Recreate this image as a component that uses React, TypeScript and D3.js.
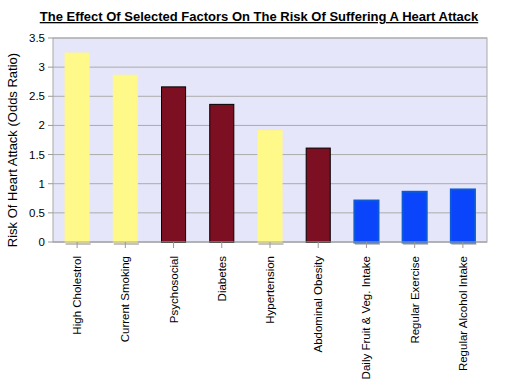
import React from "react";
import * as d3 from "d3";

const categories = [
  "High Cholestrol",
  "Current Smoking",
  "Psychosocial",
  "Diabetes",
  "Hypertension",
  "Abdominal Obesity",
  "Daily Fruit & Veg. Intake",
  "Regular Exercise",
  "Regular Alcohol Intake",
];
const oddsRatio = [3.25, 2.87, 2.67, 2.37, 1.92, 1.62, 0.72, 0.87, 0.91];
const groups = ["light", "light", "dark", "dark", "light", "dark", "blue", "blue", "blue"];
const yTicks = [0, 0.5, 1, 1.5, 2, 2.5, 3, 3.5];

const W = 506;
const H = 387;
const margin = { top: 38, right: 19, bottom: 145, left: 53 };

const fills: Record<string, string> = { light: "#fff98a", dark: "#7c1022", blue: "#0a44fb" };
const strokes: Record<string, string> = { light: "#fff68a", dark: "#000000", blue: "#0d5ad8" };

const App = () => {
  const iw = W - margin.left - margin.right;
  const ih = H - margin.top - margin.bottom;

  const x = d3.scaleBand().domain(categories).range([0, iw]).paddingInner(0.48).paddingOuter(0.24);
  const y = d3.scaleLinear().domain([0, 3.5]).range([ih, 0]);
  const font = "Arial, 'Liberation Sans', sans-serif";

  return (
    <svg width={W} height={H} style={{ display: "block", position: "absolute", left: 0, top: 0 }}>
      <rect width={W} height={H} fill="#ffffff" />
      <text
        x={259}
        y={21}
        textAnchor="middle"
        fontFamily={font}
        fontWeight="bold"
        fontSize={13}
        textDecoration="underline"
      >
        The Effect Of Selected Factors On The Risk Of Suffering A Heart Attack
      </text>
      <text
        transform={`translate(17,150) rotate(-90)`}
        textAnchor="middle"
        fontFamily={font}
        fontSize={13}
      >
        Risk Of Heart Attack (Odds Ratio)
      </text>
      <g transform={`translate(${margin.left},${margin.top})`}>
        <rect width={iw} height={ih} fill="#e6e6fa" stroke="#a8a8a8" />
        {yTicks.map((t) => (
          <g key={t}>
            <line x1={0} x2={iw} y1={y(t)} y2={y(t)} stroke="#ababab" />
            <line x1={-5} x2={0} y1={y(t)} y2={y(t)} stroke="#999999" />
            <text x={-8} y={y(t) + 4} textAnchor="end" fontFamily={font} fontSize={11.5}>
              {String(t)}
            </text>
          </g>
        ))}
        {categories.map((c, i) => {
          const bx = x(c)!;
          const bw = x.bandwidth();
          const g = groups[i];
          return (
            <g key={c}>
              {g !== "dark" && (
                <rect x={bx + 1} y={ih + 1} width={bw} height={2} fill="#c4c4c4" />
              )}
              <rect
                x={bx + 0.5}
                y={y(oddsRatio[i]) + 0.5}
                width={bw - 1}
                height={ih - y(oddsRatio[i])}
                fill={fills[g]}
                stroke={strokes[g]}
                strokeWidth={g === "blue" ? 2 : 1}
              />
            </g>
          );
        })}
        <line x1={0} x2={iw} y1={ih} y2={ih} stroke="#a8a8a8" />
        {categories.map((c) => {
          const cx = x(c)! + x.bandwidth() / 2;
          return (
            <g key={c}>
              <line x1={cx} x2={cx} y1={ih} y2={ih + 6} stroke="#999999" />
              <text
                transform={`translate(${cx + 4},${ih + 14}) rotate(-90)`}
                textAnchor="end"
                fontFamily={font}
                fontSize={11.5}
              >
                {c}
              </text>
            </g>
          );
        })}
      </g>
    </svg>
  );
};

export default App;
